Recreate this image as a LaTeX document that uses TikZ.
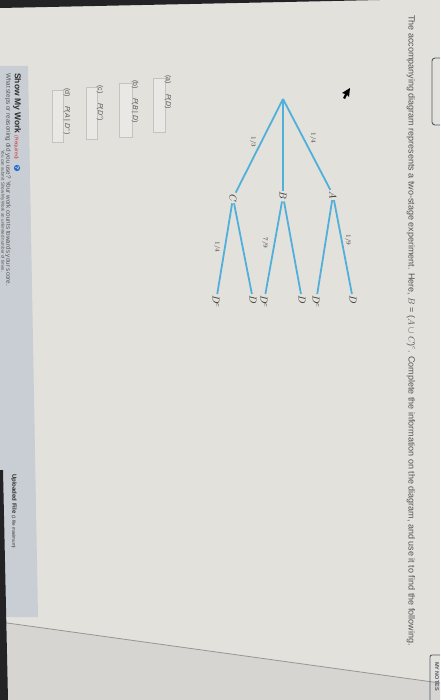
\documentclass[tikz,border=0pt]{standalone}
\usepackage{fontspec}
\setmainfont{Liberation Sans}
\definecolor{bg}{RGB}{227,225,220}
\definecolor{lowbg}{RGB}{214,213,209}
\definecolor{edgeln}{RGB}{150,150,148}
\definecolor{bezel}{RGB}{35,35,38}
\definecolor{panel}{RGB}{200,206,211}
\definecolor{txt}{RGB}{85,85,85}
\definecolor{txtdark}{RGB}{45,45,45}
\definecolor{brc}{RGB}{80,176,218}
\definecolor{ansfill}{RGB}{233,232,228}
\definecolor{ansdraw}{RGB}{196,195,192}
\definecolor{reqred}{RGB}{200,50,50}
\definecolor{qblue}{RGB}{40,110,200}
\definecolor{navbox}{RGB}{80,90,105}
\tikzset{
  vtext/.style={rotate=-90, anchor=west, inner sep=0pt},
  ttl/.style={vtext, font=\fontsize{9}{9}\selectfont, text=txt},
  itm/.style={vtext, font=\fontsize{7}{7}\selectfont, text=txt},
  ansbox/.style={fill=ansfill, draw=ansdraw, line width=0.6pt},
  lvl/.style={rotate=-90, inner sep=1.2pt, font=\fontsize{10}{10}\selectfont, text=txtdark},
  leaf/.style={lvl, anchor=west},
  plbl/.style={rotate=-90, inner sep=0pt, font=\fontsize{6.5}{6.5}\selectfont, text=txtdark},
  br/.style={draw=brc, line width=1.8pt},
  navbx/.style={draw=navbox, line width=0.9pt}
}
\begin{document}
\begin{tikzpicture}[x=1pt,y=-1pt]
\useasboundingbox (0,0) rectangle (440,700);
\clip (0,0) rectangle (440,700);
% background
\fill[bg] (0,0) rectangle (440,700);
\fill[lowbg] (0,622) -- (440,683) -- (440,700) -- (0,700) -- cycle;
\draw[edgeln, line width=0.8pt] (0,622) -- (440,683);
% show-my-work panel
\fill[panel] (0,66) -- (28,66) -- (38,617) -- (0,617) -- cycle;
% bezels
\fill[bezel] (0,0) -- (380,0) -- (0,8) -- cycle;
\fill[bezel] (0,470) -- (3,470) -- (8,700) -- (0,700) -- cycle;
% title
\node[ttl] (title) at (411,15) {The accompanying diagram represents a two-stage experiment. Here, $B$ = ($A$ $\cup$ $C$)$^{c}$. Complete the information on the diagram, and use it to find the following.};
% right-edge boxes
\draw[navbx, rounded corners=3pt] (432,58) rectangle (452,125);
\draw[navbx, rounded corners=2pt] (430,655) rectangle (452,710);
\node[vtext, font=\fontsize{5.5}{5.5}\selectfont\bfseries, text=navbox] (notes) at (437,662) {MY NOTES};
% cursor
\fill[black] (350,88) -- (342,93) -- (345,94) -- (343,98) -- (345,99) -- (347,95) -- (349,97) -- cycle;
% tree
\coordinate (r) at (283,99);
\node[lvl] (A) at (333,195) {$A$};
\node[lvl] (B) at (283,196) {$B$};
\node[lvl] (C) at (233,198) {$C$};
\node[leaf] (AD) at (353,294) {$D$};
\node[leaf] (ADc) at (316,294) {$D^{c}$};
\node[leaf] (BD) at (302,294) {$D$};
\node[leaf] (BDc) at (264,294) {$D^{c}$};
\node[leaf] (CD) at (253,294) {$D$};
\node[leaf] (CDc) at (216,294) {$D^{c}$};
\draw[br] (r) -- (A);
\draw[br] (r) -- (B);
\draw[br] (r) -- (C);
\draw[br] (A) -- (AD);
\draw[br] (A) -- (ADc);
\draw[br] (B) -- (BD);
\draw[br] (B) -- (BDc);
\draw[br] (C) -- (CD);
\draw[br] (C) -- (CDc);
\node[plbl] (p1) at (313,138) {$1/4$};
\node[plbl] (p2) at (253,142) {$1/3$};
\node[plbl] (p3) at (348,240) {$1/9$};
\node[plbl] (p4) at (265,243) {$7/9$};
\node[plbl] (p5) at (217,247) {$1/4$};
% questions
\draw[ansbox] (153,78) rectangle (165,132);
\draw[ansbox] (119,83) rectangle (132,137);
\draw[ansbox] (86,87) rectangle (97,139);
\draw[ansbox] (52,90) rectangle (63,142);
\node[itm] (qa) at (168,75) {(a)};
\node[itm] (pa) at (168,94) {\textit{P}(\textit{D})};
\node[itm] (qb) at (135,80) {(b)};
\node[itm] (pb) at (135,98) {\textit{P}(\textit{B} | \textit{D})};
\node[itm] (qc) at (100,85) {(c)};
\node[itm] (pc) at (100,103) {\textit{P}(\textit{D}$^{c}$)};
\node[itm] (qd) at (67,88) {(d)};
\node[itm] (pd) at (67,106) {\textit{P}(\textit{A} | \textit{D}$^{c}$)};
% show my work
\node[vtext, font=\fontsize{8.5}{8.5}\selectfont, text=txtdark] (smw) at (17,73) {\textbf{Show My Work} {\fontsize{5}{5}\selectfont\textcolor{reqred}{(Required)}}};
\node[circle, fill=qblue, text=white, inner sep=0.6pt, rotate=-90, font=\fontsize{5}{5}\selectfont\bfseries] (qicon) at (17,168) {?};
\node[vtext, font=\fontsize{6.3}{6.3}\selectfont, text=txt] (steps) at (8,73) {What steps or reasoning did you use? Your work counts towards your score.};
\node[vtext, font=\fontsize{4.5}{4.5}\selectfont, text=txt] (unl) at (2.6,150) {You can submit Show My Work an unlimited number of times.};
\node[vtext, font=\fontsize{6}{6}\selectfont, text=txtdark] (upl) at (14,474) {\textbf{Uploaded File} {\fontsize{4.5}{4.5}\selectfont (1 file maximum)}};
\end{tikzpicture}
\end{document}
